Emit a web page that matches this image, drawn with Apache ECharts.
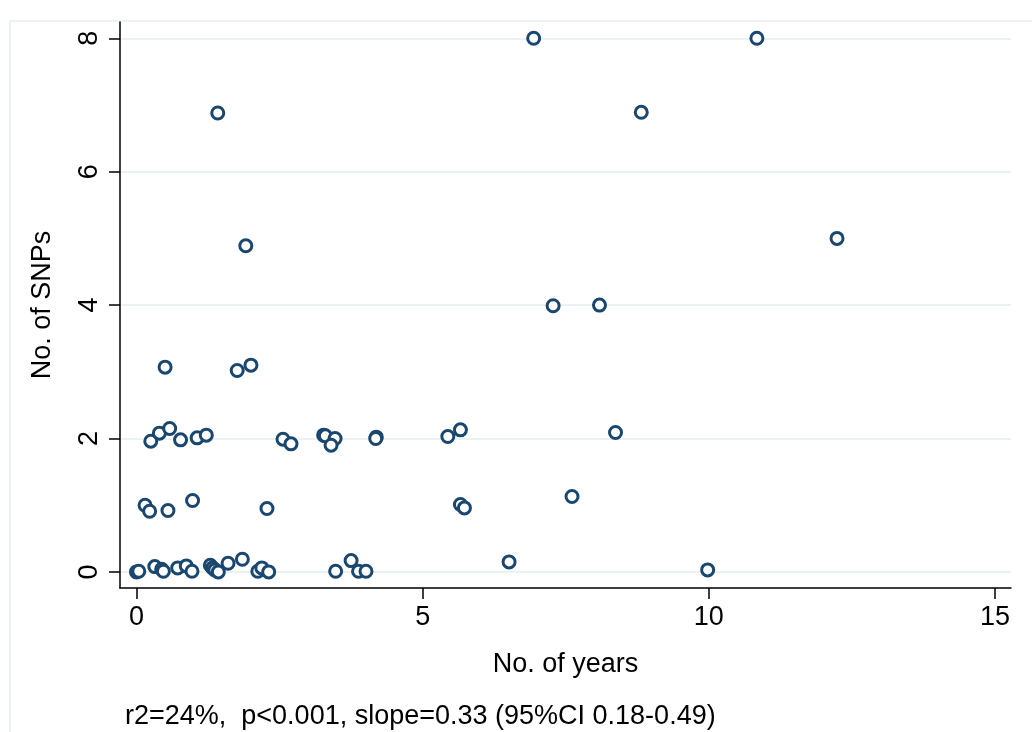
<!DOCTYPE html>
<html>
<head>
<meta charset="utf-8">
<script src="https://cdn.jsdelivr.net/npm/echarts@6/dist/echarts.min.js"></script>
<style>html,body{margin:0;padding:0;background:#fff}#c{width:1032px;height:732px}</style>
</head>
<body>
<div id="c"></div>
<script>
const xTicks = [0, 5, 10, 15];
const yTicks = [0, 2, 4, 6, 8];
const years = [6.94, 10.84, 8.82, 1.42, 1.91, 12.24, 7.28, 8.09, 1.76, 2.00, 0.50,
  0.25, 0.40, 0.58, 0.77, 1.06, 1.22, 2.56, 2.70, 3.27, 3.30, 3.47, 3.40, 4.19, 4.18, 5.44, 5.66, 8.37,
  0.15, 0.23, 0.55, 0.98, 2.28, 5.66, 5.73, 7.61,
  0.0, 0.04, 0.32, 0.44, 0.47, 0.72, 0.87, 0.97, 1.29, 1.33, 1.37, 1.43, 1.60, 1.85, 2.12, 2.19, 2.31,
  3.48, 3.75, 3.88, 4.01, 6.51, 9.98];
const snps = [8.0, 8.0, 6.89, 6.88, 4.89, 5.0, 3.99, 4.0, 3.02, 3.10, 3.07,
  1.96, 2.08, 2.15, 1.98, 2.01, 2.05, 1.99, 1.92, 2.05, 2.04, 2.0, 1.90, 2.02, 2.0, 2.03, 2.13, 2.09,
  1.0, 0.91, 0.92, 1.07, 0.95, 1.01, 0.96, 1.13,
  0.0, 0.01, 0.08, 0.04, 0.01, 0.06, 0.09, 0.01, 0.10, 0.06, 0.03, 0.0, 0.13, 0.19, 0.01, 0.06, 0.0,
  0.01, 0.17, 0.01, 0.01, 0.15, 0.03];
const noteText = 'r2=24%,  p<0.001, slope=0.33 (95%CI 0.18-0.49)';

const font = 'Arial, "Liberation Sans", Helvetica, sans-serif';
const navy = '#1a476f';
const chart = echarts.init(document.getElementById('c'), null, {renderer: 'canvas'});
chart.setOption({
  animation: false,
  backgroundColor: '#fff',
  grid: {left: 120, right: 21, top: 22, bottom: 144, containLabel: false},
  graphic: [
    {type: 'rect', z: -10, silent: true,
     shape: {x: 10, y: 21, width: 1040, height: 730},
     style: {fill: 'none', stroke: '#e6eef1', lineWidth: 1.5}},
    {type: 'text', left: 125, top: 703,
     style: {text: noteText, font: '27px ' + font, fill: '#000'}}
  ],
  xAxis: {
    type: 'value', min: -0.288, max: 15.28,
    name: 'No. of years', nameLocation: 'middle', nameGap: 63,
    nameTextStyle: {fontSize: 27, fontFamily: font, color: '#000'},
    axisLine: {show: true, onZero: false, lineStyle: {color: '#000', width: 1.5}},
    axisTick: {show: true, customValues: xTicks, length: 11, lineStyle: {color: '#000', width: 1.5}},
    axisLabel: {show: true, customValues: xTicks, fontSize: 27, fontFamily: font, color: '#000', margin: 16},
    splitLine: {show: false}
  },
  yAxis: {
    type: 'value', min: -0.241, max: 8.244,
    name: 'No. of SNPs', nameLocation: 'middle', nameGap: 64,
    nameTextStyle: {fontSize: 27, fontFamily: font, color: '#000'},
    axisLine: {show: true, onZero: false, lineStyle: {color: '#000', width: 1.5}},
    axisTick: {show: true, customValues: yTicks, length: 11, lineStyle: {color: '#000', width: 1.5}},
    axisLabel: {show: true, customValues: yTicks, rotate: 90, fontSize: 27, fontFamily: font, color: '#000', margin: 17},
    splitLine: {show: true, lineStyle: {color: '#eaf2f3', width: 2}}
  },
  series: [{
    type: 'scatter',
    data: years.map((x, i) => [x, snps[i]]),
    symbol: 'circle', symbolSize: 12,
    itemStyle: {color: '#fff', opacity: 1, borderColor: navy, borderWidth: 3},
    silent: true
  }]
});
</script>
</body>
</html>
